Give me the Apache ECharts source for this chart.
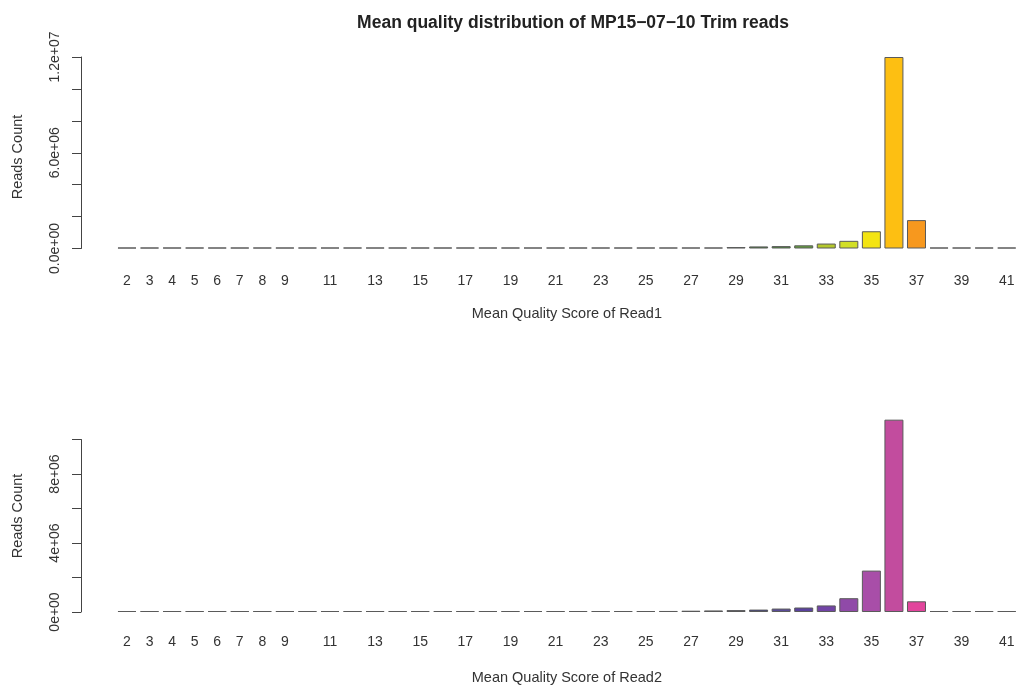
<!DOCTYPE html>
<html>
<head>
<meta charset="utf-8">
<script src="https://cdn.jsdelivr.net/npm/echarts/dist/echarts.min.js"></script>
<style>
  html, body { margin: 0; padding: 0; background: #fff; }
  #chart { width: 1018px; height: 686px; }
</style>
</head>
<body>
<div id="chart"></div>
<script>
  // quality scores 2..41
  var scores = []
  for (var q = 2; q <= 41; q++) scores.push(String(q))

  // Read1 counts per mean quality score
  var read1Counts = [
    1000, 1000, 1000, 1500, 2000, 2000, 2500, 3000, 3000, 3500,
    4000, 4000, 4500, 5000, 5000, 5500, 6000, 6500, 7000, 7500,
    8000, 9000, 10000, 12000, 15000, 25000, 45000, 90000, 130000, 150000,
    200000, 310000, 480000, 1080000, 12000000, 1780000, 0, 0, 0, 0
  ]
  // Read2 counts per mean quality score
  var read2Counts = [
    2000, 2500, 3000, 3500, 4000, 4500, 5000, 5500, 6000, 6500,
    7000, 7500, 8000, 9000, 10000, 12000, 15000, 18000, 22000, 27000,
    32000, 37000, 42000, 50000, 60000, 75000, 90000, 110000, 140000, 200000,
    260000, 380000, 800000, 2400000, 11150000, 620000, 0, 0, 0, 0
  ]

  var read1TickLabels = ['0.0e+00', '', '', '6.0e+06', '', '', '1.2e+07']
  var read2TickLabels = ['0e+00', '', '4e+06', '', '8e+06', '']

  var read1Colors = [
    '#777', '#777', '#777', '#777', '#777', '#777', '#777', '#777', '#777', '#777',
    '#777', '#777', '#777', '#777', '#777', '#777', '#777', '#777', '#777', '#777',
    '#777', '#777', '#777', '#666', '#555', '#333', '#1a1a1a', '#3a5a32', '#437f37', '#4f913c',
    '#64a03e', '#b4c82c', '#d2df26', '#f3e412', '#fdbf12', '#f7981e', '#777', '#777', '#777', '#777'
  ]
  var read2Colors = [
    '#888', '#888', '#888', '#888', '#888', '#888', '#888', '#888', '#888', '#888',
    '#888', '#888', '#888', '#888', '#888', '#888', '#888', '#888', '#888', '#888',
    '#888', '#888', '#888', '#888', '#888', '#7a7a7a', '#6a6a8a', '#3a3a8e', '#2c2c84', '#5a4c98',
    '#5a429e', '#7244a6', '#904aa8', '#a84ea8', '#c24c9e', '#e2459c', '#888', '#888', '#888', '#888'
  ]

  var font = "'Liberation Sans', Arial, sans-serif"
  var textColor = '#333'

  function barData(values, colors) {
    return values.map(function (v, i) {
      return { value: v, itemStyle: { color: colors[i] } }
    })
  }

  function xAxisFor(gridIndex, name, margin) {
    return {
      type: 'category',
      gridIndex: gridIndex,
      data: scores,
      name: name,
      nameLocation: 'middle',
      nameGap: 58,
      nameTextStyle: { fontFamily: font, fontSize: 14.5, color: textColor },
      axisLine: { show: false },
      axisTick: { show: false },
      axisLabel: {
        fontFamily: font,
        fontSize: 14,
        color: textColor,
        margin: margin,
        interval: function (index, value) {
          return +value <= 9 || +value % 2 === 1
        }
      }
    }
  }

  function yAxisFor(gridIndex, max, labels) {
    return {
      type: 'value',
      gridIndex: gridIndex,
      min: 0,
      max: max,
      interval: 2000000,
      offset: 34.7,
      splitLine: { show: false },
      axisLine: { show: true, lineStyle: { color: '#444', width: 1 } },
      axisTick: { show: true, length: 9, lineStyle: { color: '#444' } },
      axisLabel: {
        rotate: 90,
        margin: 19,
        fontFamily: font,
        fontSize: 14,
        color: textColor,
        formatter: function (v) {
          return labels[Math.round(v / 2000000)] || ''
        }
      }
    }
  }

  function barSeries(axisIndex, values, colors) {
    return {
      type: 'bar',
      xAxisIndex: axisIndex,
      yAxisIndex: axisIndex,
      data: barData(values, colors),
      barWidth: 19,
      barMinHeight: 1,
      clip: false,
      itemStyle: { borderColor: '#5a5a5a', borderWidth: 1 },
      silent: true
    }
  }

  var chart = echarts.init(document.getElementById('chart'))
  chart.setOption({
    backgroundColor: '#fff',
    animation: false,
    title: {
      text: 'Mean quality distribution of MP15\u221207\u221210 Trim reads',
      left: 568,
      top: 9,
      textAlign: 'center',
      textStyle: { fontFamily: font, fontSize: 17.5, fontWeight: 'bold', color: '#222' }
    },
    grid: [
      { left: 115.7, width: 903.6, top: 57, height: 191.5 },
      { left: 115.7, width: 903.6, top: 439.5, height: 172.5 }
    ],
    xAxis: [
      xAxisFor(0, 'Mean Quality Score of Read1', 26),
      xAxisFor(1, 'Mean Quality Score of Read2', 23)
    ],
    yAxis: [
      yAxisFor(0, 12000000, read1TickLabels),
      yAxisFor(1, 10000000, read2TickLabels)
    ],
    graphic: [
      {
        type: 'text', x: 18, y: 157, rotation: Math.PI / 2,
        style: { text: 'Reads Count', fontFamily: font, fontSize: 14.5, fill: textColor, align: 'center', verticalAlign: 'middle' }
      },
      {
        type: 'text', x: 18, y: 516, rotation: Math.PI / 2,
        style: { text: 'Reads Count', fontFamily: font, fontSize: 14.5, fill: textColor, align: 'center', verticalAlign: 'middle' }
      }
    ],
    series: [
      barSeries(0, read1Counts, read1Colors),
      barSeries(1, read2Counts, read2Colors)
    ]
  })
</script>
</body>
</html>
